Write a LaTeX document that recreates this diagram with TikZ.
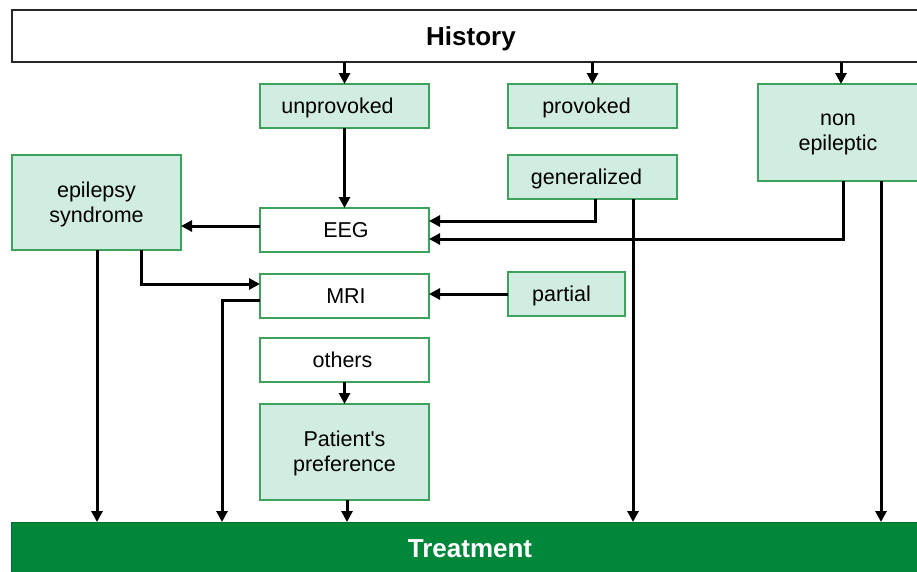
\documentclass[tikz,border=0pt]{standalone}
\usepackage{fontspec}
\setmainfont{Liberation Sans}
\usetikzlibrary{arrows.meta}
\definecolor{lgreen}{HTML}{D1ECE0}
\definecolor{bgreen}{HTML}{3DA35C}
\definecolor{dgreen}{HTML}{00873A}
\begin{document}
\begin{tikzpicture}[x=1pt,y=-1pt,
  box/.style={draw=bgreen,line width=1.5pt,inner sep=0pt,outer sep=0pt},
  gbox/.style={box,fill=lgreen},
  wbox/.style={box,fill=white},
  tx/.style={font=\fontsize{21.5}{25}\selectfont,inner sep=0pt,text=black,
    text height=19.5pt,text depth=4.5pt},
  mtx/.style={font=\fontsize{21.5}{25}\selectfont,inner sep=0pt,text=black,align=center,yshift=-1.5pt},
  big/.style={font=\bfseries\fontsize{26}{30}\selectfont,inner sep=0pt,outer sep=0pt,
    text height=23.5pt,text depth=5.5pt},
  arr/.style={line width=3pt,-{Triangle[length=11pt,width=11pt]}}]
\useasboundingbox (0,0) rectangle (917,571);
\clip (0,0) rectangle (917,571);
% nodes
\node[big,draw=black!85,line width=1.5pt,fill=white,
  minimum width=918pt,minimum height=52pt] (hist) at (471,36) {History};
\node[big,fill=dgreen,draw=dgreen!80!black,line width=1pt,text=white,
  minimum width=918pt,minimum height=52pt] (treat) at (470,548) {Treatment};
\node[gbox,minimum width=169pt,minimum height=44pt,
  label={[tx,xshift=-7pt]center:unprovoked}] (unprov) at (344.5,106) {};
\node[gbox,minimum width=169pt,minimum height=44pt,
  label={[tx,xshift=-6pt]center:provoked}] (prov) at (592.5,106) {};
\node[gbox,minimum width=160pt,minimum height=97pt,
  label={[mtx]center:{non\\epileptic}}] (nonep) at (838,132.5) {};
\node[gbox,minimum width=169pt,minimum height=95pt,
  label={[mtx]center:{epilepsy\\syndrome}}] (episyn) at (96.5,202.5) {};
\node[gbox,minimum width=169pt,minimum height=44pt,
  label={[tx,xshift=-6pt]center:generalized}] (gen) at (592.5,177) {};
\node[wbox,minimum width=169pt,minimum height=44pt,
  label={[tx,xshift=1.5pt]center:EEG}] (eeg) at (344.5,230) {};
\node[wbox,minimum width=169pt,minimum height=44pt,
  label={[tx,xshift=1.5pt]center:MRI}] (mri) at (344.5,296) {};
\node[gbox,minimum width=117pt,minimum height=44pt,
  label={[tx,xshift=-5pt]center:partial}] (partial) at (566.5,294) {};
\node[wbox,minimum width=169pt,minimum height=44pt,
  label={[tx,xshift=-2pt]center:others}] (others) at (344.5,360) {};
\node[gbox,minimum width=169pt,minimum height=96pt,
  label={[mtx]center:{Patient\textquotesingle s\\preference}}] (pat) at (344.5,452) {};
% connectors
\draw[arr] (unprov.north |- hist.south) -- (unprov.north);
\draw[arr] (prov.north |- hist.south) -- (prov.north);
\draw[arr] (841,0 |- hist.south) -- (841,0 |- nonep.north);
\draw[arr] (unprov.south) -- (eeg.north);
\draw[arr] (eeg.west |- 0,226) -- (episyn.east |- 0,226);
\draw[arr] (595,0 |- gen.south) -- (595,221) -- (eeg.east |- 0,221);
\draw[arr] (843,0 |- nonep.south) -- (843,239) -- (eeg.east |- 0,239);
\draw[arr] (633,0 |- gen.south) -- (633,0 |- treat.north);
\draw[arr] (881,0 |- nonep.south) -- (881,0 |- treat.north);
\draw[arr] (97,0 |- episyn.south) -- (97,0 |- treat.north);
\draw[arr] (141,0 |- episyn.south) -- (141,284) -- (mri.west |- 0,284);
\draw[arr] (mri.west |- 0,300) -- (222,300) -- (222,0 |- treat.north);
\draw[arr] (partial.west) -- (mri.east |- partial.west);
\draw[arr] (others.south) -- (pat.north);
\draw[arr] (347,0 |- pat.south) -- (347,0 |- treat.north);
\end{tikzpicture}
\end{document}
